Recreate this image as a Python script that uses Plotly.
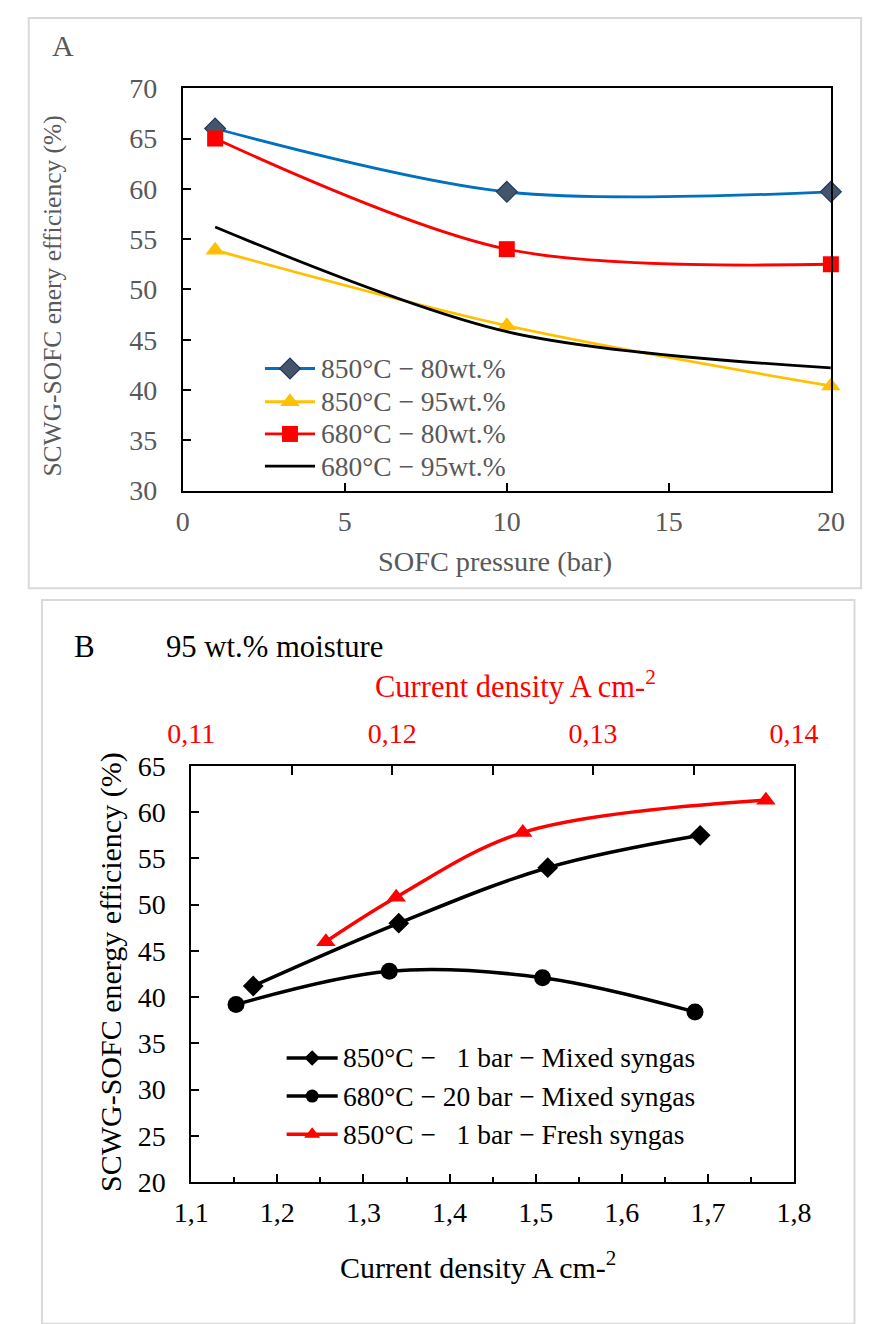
import plotly.graph_objects as go

W, H = 888, 1324
FONT = "Liberation Serif"
GREY = "#595959"

# ---- Panel A: SCWG-SOFC energy efficiency vs SOFC pressure ----
pressure = [1, 10, 20]
eff_850_80 = [66.0, 59.7, 59.7]
eff_850_95 = [53.9, 46.4, 40.4]
eff_680_80 = [65.0, 54.0, 52.5]
eff_680_95 = [56.2, 45.8, 42.2]

# ---- Panel B: efficiency vs current density (95 wt.% moisture) ----
cd_850_1_mixed = [1.172, 1.341, 1.514, 1.691]
eff_850_1_mixed = [41.2, 48.0, 54.0, 57.5]
cd_680_20_mixed = [1.152, 1.330, 1.508, 1.685]
eff_680_20_mixed = [39.2, 42.8, 42.1, 38.4]
cd_850_1_fresh = [0.1167, 0.1202, 0.1265, 0.1386]
eff_850_1_fresh = [46.0, 50.8, 57.8, 61.3]

legend_a = ["850°C − 80wt.%", "850°C − 95wt.%", "680°C − 80wt.%", "680°C − 95wt.%"]
legend_b = ["850°C − \u00a0\u00a01 bar − Mixed syngas",
            "680°C − 20 bar − Mixed syngas",
            "850°C − \u00a0\u00a01 bar − Fresh syngas"]


def px(x):
    return x / W


def py(y):
    return 1 - y / H


fig = go.Figure()

# Panel A series
styles_a = [
    (eff_850_80, "#0070C0", dict(symbol="diamond", size=16, color="#44546A",
                                  line=dict(color="#243A5E", width=1.2))),
    (eff_850_95, "#FFC000", dict(symbol="triangle-up", size=17, color="#FFC000")),
    (eff_680_80, "#FF0000", dict(symbol="square", size=16, color="#FF0000")),
    (eff_680_95, "#000000", None),
]
for vals, col, mk in styles_a:
    fig.add_trace(go.Scatter(
        x=pressure, y=vals, xaxis="x", yaxis="y",
        mode="lines+markers" if mk else "lines",
        line=dict(color=col, width=2.8, shape="spline", smoothing=0.9),
        marker=mk, cliponaxis=False, showlegend=False))

# Panel B series
fig.add_trace(go.Scatter(
    x=cd_850_1_mixed, y=eff_850_1_mixed, xaxis="x2", yaxis="y2",
    mode="lines+markers", line=dict(color="black", width=3.5, shape="spline"),
    marker=dict(symbol="diamond", size=16, color="black"),
    cliponaxis=False, showlegend=False))
fig.add_trace(go.Scatter(
    x=cd_680_20_mixed, y=eff_680_20_mixed, xaxis="x2", yaxis="y2",
    mode="lines+markers", line=dict(color="black", width=3.5, shape="spline"),
    marker=dict(symbol="circle", size=17, color="black"),
    cliponaxis=False, showlegend=False))
fig.add_trace(go.Scatter(
    x=cd_850_1_fresh, y=eff_850_1_fresh, xaxis="x3", yaxis="y2",
    mode="lines+markers", line=dict(color="#FF0000", width=3.5, shape="spline"),
    marker=dict(symbol="triangle-up", size=17, color="#FF0000"),
    cliponaxis=False, showlegend=False))


# Legend keys drawn on a pixel-space overlay axis
def legend_key(x0, x1, y, col, width, mk):
    xm = (x0 + x1) / 2
    fig.add_trace(go.Scatter(
        x=[x0, x1], y=[y, y], xaxis="x4", yaxis="y4", mode="lines",
        line=dict(color=col, width=width), showlegend=False, hoverinfo="skip"))
    if mk:
        fig.add_trace(go.Scatter(
            x=[xm], y=[y], xaxis="x4", yaxis="y4", mode="markers",
            marker=mk, showlegend=False, hoverinfo="skip"))


rows_a = [362, 396, 429, 462]
for (vals, col, mk), label, ry in zip(styles_a, legend_a, rows_a):
    legend_key(255, 308, ry, col, 2.8, mk)
    fig.add_annotation(x=px(312), y=py(ry), xref="paper", yref="paper",
                       text=label, showarrow=False, xanchor="left", yanchor="middle",
                       font=dict(family=FONT, size=27.5, color=GREY))

rows_b = [1068, 1107, 1146]
keys_b = [
    ("black", dict(symbol="diamond", size=12, color="black")),
    ("black", dict(symbol="circle", size=13, color="black")),
    ("#FF0000", dict(symbol="triangle-up", size=14, color="#FF0000")),
]
for (col, mk), label, ry in zip(keys_b, legend_b, rows_b):
    legend_key(278, 332, ry, col, 3.5, mk)
    fig.add_annotation(x=px(336), y=py(ry), xref="paper", yref="paper",
                       text=label, showarrow=False, xanchor="left", yanchor="middle",
                       font=dict(family=FONT, size=27.5, color="black"))

axis_common = dict(showgrid=False, zeroline=False, showline=True, linecolor="black",
                   linewidth=2, ticks="inside", tickcolor="black", tickwidth=1.5)

fig.update_layout(
    width=W, height=H, margin=dict(l=0, r=0, t=0, b=0),
    paper_bgcolor="white", plot_bgcolor="rgba(0,0,0,0)",
    separators=",.", showlegend=False,
    font=dict(family=FONT),
    xaxis=dict(domain=[px(168), px(854)], anchor="y", range=[0, 20], dtick=5,
               ticklen=8, mirror=True, ticklabelstandoff=5,
               tickfont=dict(family=FONT, size=28, color=GREY), **axis_common),
    yaxis=dict(domain=[py(487), py(75)], anchor="x", range=[30, 70], dtick=5,
               ticklen=8, mirror=True, ticklabelstandoff=18,
               tickfont=dict(family=FONT, size=28, color=GREY), **axis_common),
    xaxis2=dict(domain=[px(177), px(815)], anchor="y2", range=[1.1, 1.8], dtick=0.1,
                tickformat=".1f", ticklen=8, mirror=True, ticklabelstandoff=4,
                minor=dict(dtick=0.05, ticks="inside", ticklen=5, tickcolor="black",
                           tickwidth=1.5),
                tickfont=dict(family=FONT, size=28, color="black"), **axis_common),
    xaxis3=dict(overlaying="x2", anchor="y2", side="top", range=[0.11, 0.14],
                dtick=0.01, tickformat=".2f", ticklen=9, ticklabelstandoff=10,
                minor=dict(dtick=0.005, ticks="inside", ticklen=9, tickcolor="black",
                           tickwidth=1.5),
                tickfont=dict(family=FONT, size=28, color="#FF0000"), **axis_common),
    yaxis2=dict(domain=[py(1195), py(769)], anchor="x2", range=[20, 65], dtick=5,
                ticklen=8, mirror=True, ticklabelstandoff=18,
                tickfont=dict(family=FONT, size=28, color="black"), **axis_common),
    xaxis4=dict(domain=[0, 1], anchor="y4", range=[0, W], visible=False, fixedrange=True),
    yaxis4=dict(domain=[0, 1], anchor="x4", range=[H, 0], visible=False, fixedrange=True),
)

# Panel frames
fig.add_shape(type="rect", xref="paper", yref="paper", x0=px(5), x1=px(886),
              y0=py(587), y1=py(3), line=dict(color="#D9D9D9", width=2), layer="below")
fig.add_shape(type="rect", xref="paper", yref="paper", x0=px(19), x1=px(879),
              y0=py(1340), y1=py(599), line=dict(color="#D9D9D9", width=2), layer="below")


def text(x, y, s, size, color="black", angle=0, xanchor="center"):
    fig.add_annotation(x=px(x), y=py(y), xref="paper", yref="paper", text=s,
                       showarrow=False, xanchor=xanchor, yanchor="middle",
                       textangle=angle, font=dict(family=FONT, size=size, color=color))


text(41, 31, "A", 30, GREY)
text(498, 560, "SOFC pressure (bar)", 28.3, GREY)
text(30, 288, "SCWG-SOFC enery efficiency (%)", 25.5, GREY, angle=-90)

text(64, 647, "B", 31)
text(148, 647, "95 wt.% moisture", 30.7, xanchor="left")
text(520, 686, "Current density A cm-<sup>2</sup>", 30.5, "#FF0000")
text(481, 1280, "Current density A cm-<sup>2</sup>", 30)
text(92, 980, "SCWG-SOFC energy efficiency (%)", 30, angle=-90)

fig.write_html("out.html")
